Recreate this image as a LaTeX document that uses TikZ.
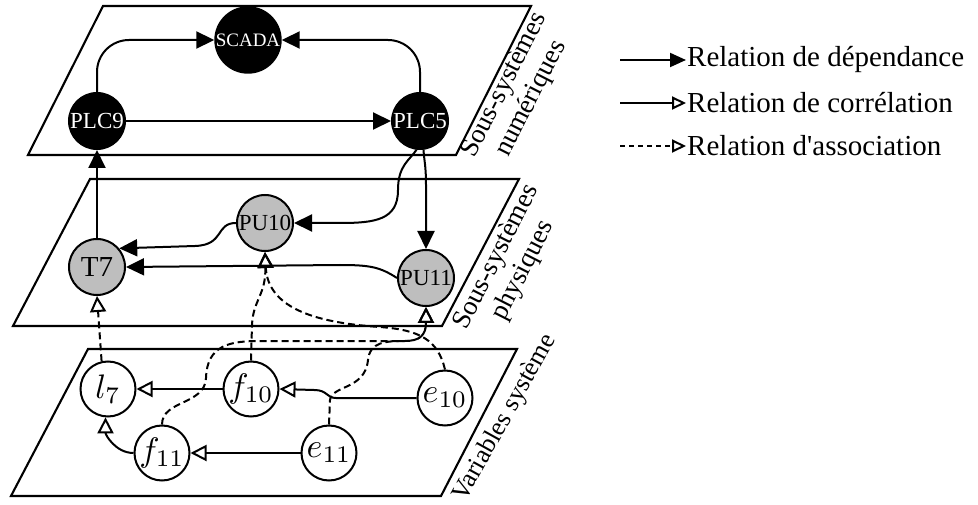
\documentclass[tikz,border=0pt]{standalone}
\usepackage{fontspec}
\setmainfont{Liberation Serif}[Ligatures=TeXOff]
\usetikzlibrary{arrows.meta}
\definecolor{nodegray}{RGB}{190,190,190}
\newcommand{\varlbl}[1]{\scalebox{3.4}{$#1$}}
\begin{document}
\begin{tikzpicture}[x=1pt,y=-1pt,
  plane/.style={draw, line width=2.1pt, line join=miter},
  dig/.style={circle, fill=black, draw=black, line width=2pt, minimum size=56pt, inner sep=0pt, text=white, font=\fontsize{23}{23}\selectfont},
  phy/.style={circle, fill=nodegray, draw=black, line width=2pt, minimum size=56pt, inner sep=0pt, font=\fontsize{23}{23}\selectfont},
  var/.style={circle, fill=white, draw=black, line width=2pt, minimum size=55pt, inner sep=0pt},
  dep/.style={line width=2pt, -{Triangle[length=18pt,width=17pt]}},
  cor/.style={line width=2pt, -{Triangle[open,length=16pt,width=16pt]}},
  assoc/.style={line width=2pt, dash pattern=on 7pt off 4pt, -{Triangle[open,length=16pt,width=16pt]}},
  lbl/.style={font=\fontsize{27}{30}\selectfont, align=center, rotate=63},
  legtxt/.style={anchor=west, inner sep=1pt, font=\fontsize{29}{29}\selectfont},
]
\useasboundingbox (0,0) rectangle (978,505);

% planes
\draw[plane] (28,155) -- (456,155) -- (531,6) -- (103,6) -- cycle;
\draw[plane] (13,326) -- (442,326) -- (519,179) -- (90,179) -- cycle;
\draw[plane] (11,496) -- (441,496) -- (517,349) -- (88,349) -- cycle;

% plane labels
\node[lbl] (Lnum) at (518,92) {Sous-systèmes\\numériques};
\node[lbl] (Lphy) at (510,264) {Sous-systèmes\\physiques};
\node[lbl, font=\fontsize{26}{30}\selectfont, rotate=-2] (Lvar) at (505,418) {Variables système};

% nodes
\node[dig, font=\fontsize{19}{19}\selectfont] (SCADA) at (248,40) {SCADA};
\node[dig] (PLC9) at (97,121) {PLC9};
\node[dig] (PLC5) at (420,121) {PLC5};
\node[phy, font=\fontsize{29}{29}\selectfont] (T7) at (97,267) {T7};
\node[phy] (PU10) at (265,223) {PU10};
\node[phy] (PU11) at (426,278) {PU11};
\node[var] (l7) at (108,389) {\varlbl{l_7}};
\node[var] (f10) at (251,389) {\varlbl{f_{10}}};
\node[var] (e10) at (445,398) {\varlbl{e_{10}}};
\node[var] (f11) at (162,453) {\varlbl{f_{11}}};
\node[var] (e11) at (329,453) {\varlbl{e_{11}}};

% dependency
\draw[dep, rounded corners=32pt] (PLC9.north) |- (SCADA.west);
\draw[dep, rounded corners=32pt] (PLC5.north) |- (SCADA.east);
\draw[dep] (PLC9.east) -- (PLC5.west);
\draw[dep] (T7.north) -- (PLC9.south);
\draw[dep] (PLC5.263) .. controls (410,160) and (398,165) .. (398,190)
  .. controls (398,220) and (375,223) .. (340,223) -- (PU10.east);
\draw[dep] (PLC5.277) .. controls (424,160) and (426,165) .. (426,185) -- (PU11.north);
\draw[dep] (PU10.west) .. controls (215,223) and (225,245) .. (195,246) -- (T7.40);
\draw[dep] (PU11.west) .. controls (380,267) and (370,265) .. (340,265) -- (T7.east);

% correlation
\draw[cor] (f10.west) -- (l7.east);
\draw[cor] (e10.west) -- (336,398) .. controls (326,398) and (328,390) .. (314,390) -- (f10.east);
\draw[cor] (e11.west) -- (f11.east);
\draw[cor] (f11.west) to[out=180,in=-90] (l7.265);

% association
\draw[assoc] (l7.103) -- (T7.south);
\draw[assoc] (f10.north) -- (252,325) .. controls (253,300) and (266,295) .. (PU10.south);
\draw[assoc] (e10.north) .. controls (438,340) and (420,330) .. (380,327)
  .. controls (320,323) and (268,310) .. (PU10.south);
\draw[assoc] (f11.north) .. controls (162,400) and (205,405) .. (206,378)
  .. controls (207,345) and (230,341) .. (260,341) -- (405,341)
  .. controls (420,341) and (426,335) .. (PU11.south);
\draw[assoc] (e11.north) -- (330,400) .. controls (332,385) and (365,390) .. (368,360)
  .. controls (370,342) and (385,341) .. (405,341)
  .. controls (420,341) and (426,335) .. (PU11.south);

% legend
\coordinate (a1) at (620,60); \coordinate (b1) at (686,60);
\coordinate (a2) at (620,103); \coordinate (b2) at (686,103);
\coordinate (a3) at (620,146); \coordinate (b3) at (686,146);
\draw[dep, -{Triangle[length=16pt,width=14pt]}] (a1) -- (b1);
\draw[cor, -{Triangle[open,length=14pt,width=13pt]}] (a2) -- (b2);
\draw[assoc, dash pattern=on 5pt off 4pt, -{Triangle[open,length=14pt,width=13pt]}] (a3) -- (b3);
\node[legtxt] (t1) at (b1) {Relation de dépendance};
\node[legtxt] (t2) at (b2) {Relation de corrélation};
\node[legtxt] (t3) at (b3) {Relation d'association};
\end{tikzpicture}
\end{document}
